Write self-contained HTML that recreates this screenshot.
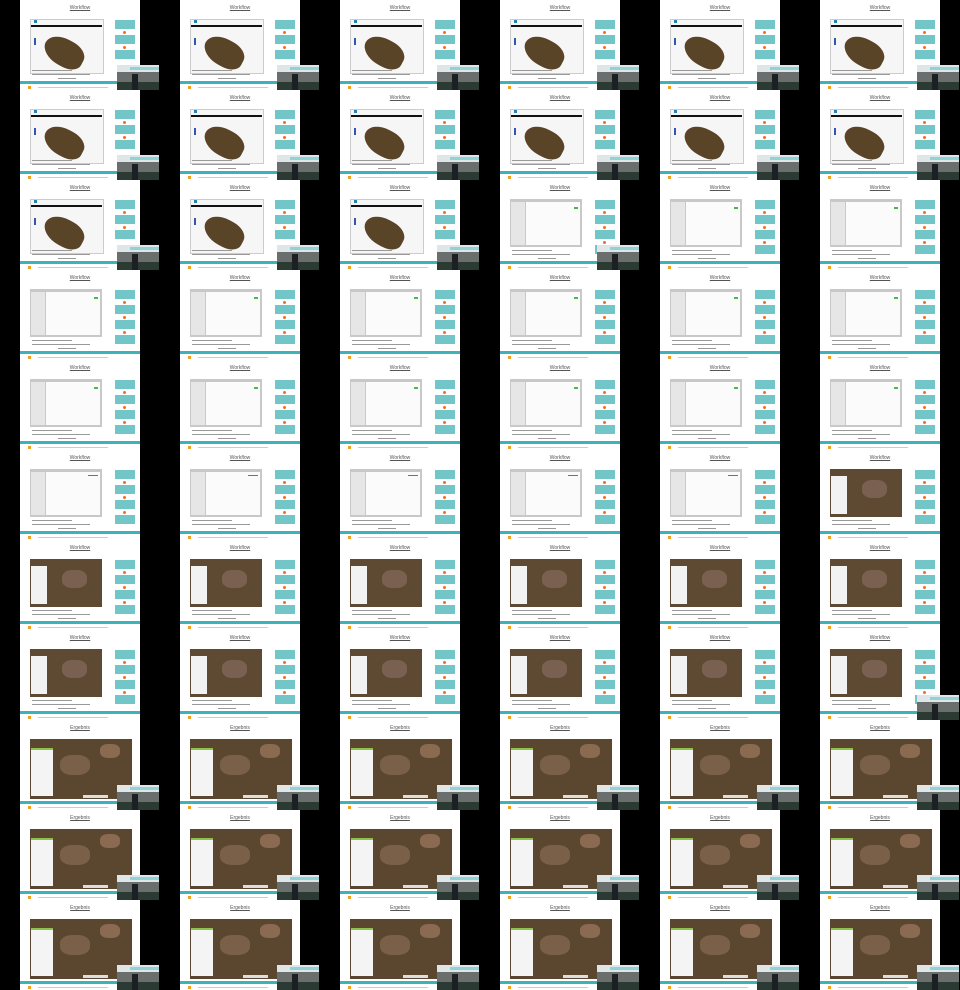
<!DOCTYPE html>
<html><head><meta charset="utf-8"><style>
body{margin:0;background:#000;width:960px;height:990px;overflow:hidden;position:relative;font-family:"Liberation Sans",sans-serif}
.cell{position:absolute;width:160px;height:90px;background:#000;overflow:hidden}
.cell div{position:absolute}
.slide{left:20px;top:0;width:120px;height:90px;background:#fff}
.title{left:20px;width:120px;top:5px;text-align:center;font-size:5px;color:#555;text-decoration:underline}
.teal{left:20px;top:81px;width:120px;height:3px;background:#3bb3b8}
.box{left:115px;width:20px;background:#72c6c8}
.dot{left:123px;width:3px;height:3px;border-radius:50%;background:#f07020}
.line{height:1px;background:#999}
</style></head><body>
<script>
// frame types per row (6 per row): A rock, B settings, C form, D aerial workflow, E results
const frameTypes=[
"AAAAAA","AAAAAA","AAABBB","BBBBBB","BBBBBB","CCCCCD","DDDDDD","DDDDDD","EEEEEE","EEEEEE","EEEEEE"];
const webcamRows=["111111","111111","111100","000000","000000","000000","000000","000001","111111","111111","111111"];
function add(p,cls,st,name){const d=document.createElement('div');if(cls)d.className=cls;d.style.cssText=st||'';


p.appendChild(d);return d;}
frameTypes.forEach((row,r)=>{[...row].forEach((t,c)=>{
 const cell=document.createElement('div');cell.className='cell';cell.style.left=c*160+'px';cell.style.top=r*90+'px';
 
 
 document.body.appendChild(cell);
 add(cell,'slide','','slide');
 const ti=add(cell,'title','','slide-title');ti.textContent=t==='E'?'Ergebnis':'Workflow';
 if(t==='E'){
  add(cell,'','left:30px;top:19px;width:102px;height:60px;background:#5b4630','result-image');
  add(cell,'','left:31px;top:28px;width:22px;height:48px;background:#f4f4f4','result-sidebar');
  add(cell,'','left:31px;top:28px;width:22px;height:2px;background:#8bc34a','sidebar-header');
  add(cell,'','left:60px;top:35px;width:30px;height:20px;background:#7a6048;border-radius:40%','building-cluster');
  add(cell,'','left:100px;top:24px;width:20px;height:14px;background:#8a6a50;border-radius:40%','building-cluster');
  add(cell,'','left:83px;top:75px;width:25px;height:3px;background:#ddd','result-caption');
 } else {
  if(t==='A'){
   add(cell,'','left:30px;top:19px;width:72px;height:53px;background:#f6f6f6;border:1px solid #ccc','app-window');
   add(cell,'','left:31px;top:25px;width:71px;height:2px;background:#111','app-toolbar');
   add(cell,'','left:34px;top:20px;width:3px;height:3px;background:#2a7fb0','app-logo');
   add(cell,'','left:43px;top:39px;width:42px;height:27px;background:#5a4428;border-radius:50% 45% 40% 55%;transform:rotate(28deg)','rock-model');
   add(cell,'','left:34px;top:38px;width:2px;height:7px;background:#3355aa','axis-gizmo');
  } else if(t==='D'){
   add(cell,'','left:30px;top:19px;width:72px;height:48px;background:#5e4a32','aerial-image');
   add(cell,'','left:31px;top:26px;width:16px;height:38px;background:#f2f2f2','side-panel');
   add(cell,'','left:62px;top:30px;width:25px;height:18px;background:#7a6050;border-radius:40%','building-cluster');
  } else {
   add(cell,'','left:30px;top:19px;width:72px;height:48px;background:#c8c8c8','settings-window');
   add(cell,'','left:46px;top:22px;width:54px;height:43px;background:#fbfbfb','settings-pane');
   add(cell,'','left:31px;top:22px;width:14px;height:43px;background:#e6e6e6','settings-nav');
   add(cell,'',t==='C'?'left:88px;top:25px;width:10px;height:1px;background:#d44':'left:94px;top:27px;width:4px;height:2px;background:#4b4','status-indicator');
  }
  [70,74,78].forEach((y,i)=>add(cell,'line',`left:${i==2?58:32}px;top:${y}px;width:${i==2?18:[40,58][i]}px`,'caption-line'));
  const n=t==='A'?3:4;
  for(let i=0;i<n;i++){add(cell,'box',`top:${20+i*15}px;height:9px`,'workflow-step');
   if(i<n-1)add(cell,'dot',`top:${31+i*15}px`,'workflow-arrow');}
 }
 add(cell,'teal','','footer-bar');
 add(cell,'','left:28px;top:86px;width:3px;height:3px;background:#f0a020','footer-logo');
 add(cell,'line','left:38px;top:87px;width:70px;background:#ccc','footer-text');
 if(webcamRows[r][c]==='1'){
  add(cell,'','left:117px;top:65px;width:42px;height:25px;background:#6a6e6c','webcam-inset');
  add(cell,'','left:117px;top:65px;width:42px;height:7px;background:#dfe6e8','webcam-screen');
  add(cell,'','left:130px;top:67px;width:29px;height:3px;background:#8fd3d8','webcam-screen-bar');
  add(cell,'','left:117px;top:82px;width:42px;height:8px;background:#2c3a34','webcam-floor');
  add(cell,'','left:132px;top:74px;width:6px;height:16px;background:#1c1f24','presenter');
 }
});});
</script>
</body></html>
